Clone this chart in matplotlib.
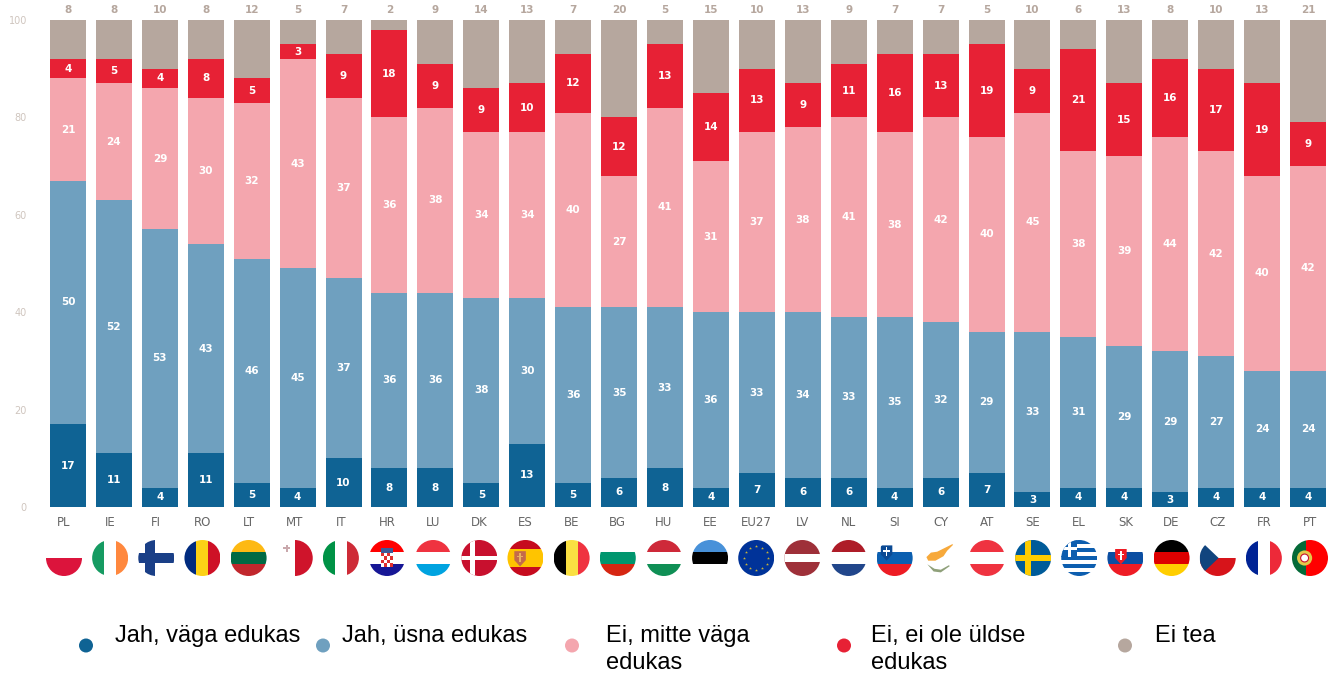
import numpy as np
import matplotlib
matplotlib.use('Agg')
import matplotlib.pyplot as plt
from matplotlib.patches import Rectangle, Circle, Polygon

countries = ['PL', 'IE', 'FI', 'RO', 'LT', 'MT', 'IT', 'HR', 'LU', 'DK', 'ES', 'BE', 'BG', 'HU',
             'EE', 'EU27', 'LV', 'NL', 'SI', 'CY', 'AT', 'SE', 'EL', 'SK', 'DE', 'CZ', 'FR', 'PT']
very = [17, 11, 4, 11, 5, 4, 10, 8, 8, 5, 13, 5, 6, 8, 4, 7, 6, 6, 4, 6, 7, 3, 4, 4, 3, 4, 4, 4]
rather = [50, 52, 53, 43, 46, 45, 37, 36, 36, 38, 30, 36, 35, 33, 36, 33, 34, 33, 35, 32, 29, 33, 31, 29, 29, 27, 24, 24]
not_very = [21, 24, 29, 30, 32, 43, 37, 36, 38, 34, 34, 40, 27, 41, 31, 37, 38, 41, 38, 42, 40, 45, 38, 39, 44, 42, 40, 42]
not_at_all = [4, 5, 4, 8, 5, 3, 9, 18, 9, 9, 10, 12, 12, 13, 14, 13, 9, 11, 16, 13, 19, 9, 21, 15, 16, 17, 19, 9]
dont_know = [8, 8, 10, 8, 12, 5, 7, 2, 9, 14, 13, 7, 20, 5, 15, 10, 13, 9, 7, 7, 5, 10, 6, 13, 8, 10, 13, 21]

series = [very, rather, not_very, not_at_all, dont_know]
colors = ['#0F6394', '#6FA0BF', '#F4A6AE', '#E72135', '#B6A79E']
legend_labels = ['Jah, väga edukas', 'Jah, üsna edukas', 'Ei, mitte väga\nedukas', 'Ei, ei ole üldse\nedukas', 'Ei tea']
legend_dot_x = [86, 323, 572, 844, 1125]
legend_text_x = [115, 342, 606, 871, 1155]

W, H = 1336, 673
fig = plt.figure(figsize=(W / 100, H / 100), dpi=100)

# main axes, placed so the bars land where they do in the picture
ax = fig.add_axes([45 / W, 1 - 507 / H, (1331 - 45) / W, 487 / H])
x = np.arange(len(countries))
bottom = np.zeros(len(countries))
for k, (vals, col) in enumerate(zip(series, colors)):
    ax.bar(x, vals, bottom=bottom, width=0.785, color=col)
    for i, v in enumerate(vals):
        if k < 4:
            ax.text(i, bottom[i] + v / 2, str(v), ha='center', va='center', color='white',
                    fontsize=7.5, fontweight='bold', family='DejaVu Sans')
        else:
            ax.text(i, 102, str(v), ha='center', va='center', color='#B6A79E',
                    fontsize=7.5, fontweight='bold', family='DejaVu Sans')
    bottom += np.array(vals)

ax.set_xlim(-0.5, 27.5)
ax.set_ylim(0, 100)
ax.set_xticks([])
ax.set_yticks(range(0, 101, 20))
ax.tick_params(axis='y', length=0, pad=13, labelsize=7, labelcolor='#CFC5BE')
for s in ax.spines.values():
    s.set_visible(False)
ax.patch.set_alpha(0)

# overlay in pixel coordinates for country codes, flags and the legend
ov = fig.add_axes([0, 0, 1, 1])
ov.set_xlim(0, W)
ov.set_ylim(H, 0)
ov.axis('off')
ov.patch.set_alpha(0)

flag_x = np.linspace(64, 1310, len(countries))
flag_y = 558
R = 18


def draw_rect(cx, clip, x0, y0, x1, y1, col):
    # coords are relative to the flag, in units of the radius
    r = Rectangle((cx + x0 * R, flag_y + y0 * R), (x1 - x0) * R, (y1 - y0) * R, fc=col, ec='none')
    ov.add_patch(r)
    r.set_clip_path(clip)


def draw_poly(cx, clip, pts, col):
    p = Polygon([(cx + a * R, flag_y + b * R) for a, b in pts], fc=col, ec='none')
    ov.add_patch(p)
    p.set_clip_path(clip)


def h_stripes(cx, clip, cols):
    n = len(cols)
    for j, c in enumerate(cols):
        draw_rect(cx, clip, -1, -1 + 2 * j / n, 1, -1 + 2 * (j + 1) / n, c)


def v_stripes(cx, clip, cols):
    n = len(cols)
    for j, c in enumerate(cols):
        draw_rect(cx, clip, -1 + 2 * j / n, -1, -1 + 2 * (j + 1) / n, 1, c)


def cross(cx, clip, bg, col, w=0.2, off=-0.3):
    draw_rect(cx, clip, -1, -1, 1, 1, bg)
    draw_rect(cx, clip, -1, -w, 1, w, col)
    draw_rect(cx, clip, off - w, -1, off + w, 1, col)


def small_shield(cx, clip, a, b, col, inner):
    draw_poly(cx, clip, [(a - 0.32, b - 0.4), (a + 0.32, b - 0.4), (a + 0.32, b + 0.1), (a, b + 0.45), (a - 0.32, b + 0.1)], col)
    draw_rect(cx, clip, a - 0.05, b - 0.3, a + 0.05, b + 0.2, inner)
    draw_rect(cx, clip, a - 0.18, b - 0.15, a + 0.18, b - 0.05, inner)


for code, cx in zip(countries, flag_x):
    clip = Circle((cx, flag_y), R, transform=ov.transData)
    if code == 'PL':
        h_stripes(cx, clip, ['white', '#DC143C'])
    elif code == 'IE':
        v_stripes(cx, clip, ['#169B62', 'white', '#FF883E'])
    elif code == 'FI':
        cross(cx, clip, 'white', '#1A3F87', w=0.27, off=-0.33)
    elif code == 'RO':
        v_stripes(cx, clip, ['#002B7F', '#FCD116', '#CE1126'])
    elif code == 'LT':
        h_stripes(cx, clip, ['#FDB913', '#006A44', '#C1272D'])
    elif code == 'MT':
        v_stripes(cx, clip, ['white', '#CF142B'])
        draw_rect(cx, clip, -0.65, -0.6, -0.25, -0.48, '#C9A8AC')
        draw_rect(cx, clip, -0.51, -0.75, -0.39, -0.32, '#C9A8AC')
    elif code == 'IT':
        v_stripes(cx, clip, ['#009246', 'white', '#CE2B37'])
    elif code == 'HR':
        h_stripes(cx, clip, ['#FF0000', 'white', '#171796'])
        draw_rect(cx, clip, -0.32, -0.55, 0.32, -0.3, '#3D5A98')
        for m in range(4):
            for n in range(4):
                c = '#E03030' if (m + n) % 2 == 0 else 'white'
                draw_rect(cx, clip, -0.32 + 0.16 * m, -0.3 + 0.2 * n, -0.16 + 0.16 * m, -0.1 + 0.2 * n, c)
    elif code == 'LU':
        h_stripes(cx, clip, ['#EF3340', 'white', '#00A3E0'])
    elif code == 'DK':
        cross(cx, clip, '#C8102E', 'white', w=0.13, off=-0.38)
    elif code == 'ES':
        h_stripes(cx, clip, ['#C60B1E', '#FFC400', '#FFC400', '#C60B1E'])
        small_shield(cx, clip, -0.3, 0.02, '#C46A4A', '#E8B060')
    elif code == 'BE':
        v_stripes(cx, clip, ['black', '#FAE042', '#EF3340'])
    elif code == 'BG':
        h_stripes(cx, clip, ['white', '#00966E', '#D62612'])
    elif code == 'HU':
        h_stripes(cx, clip, ['#CE2939', 'white', '#0F8F55'])
    elif code == 'EE':
        h_stripes(cx, clip, ['#4891D9', 'black', 'white'])
    elif code == 'EU27':
        draw_rect(cx, clip, -1, -1, 1, 1, '#003399')
        ang = np.arange(12) * np.pi / 6
        ov.scatter(cx + 0.66 * R * np.cos(ang), flag_y + 0.66 * R * np.sin(ang), s=5, c='#C9B43A', marker='*', linewidths=0)
    elif code == 'LV':
        draw_rect(cx, clip, -1, -1, 1, 1, '#9E3039')
        draw_rect(cx, clip, -1, -0.2, 1, 0.2, 'white')
    elif code == 'NL':
        h_stripes(cx, clip, ['#AE1C28', 'white', '#21468B'])
    elif code == 'SI':
        h_stripes(cx, clip, ['white', '#0B5FB0', '#ED1C24'])
        small_shield(cx, clip, -0.45, -0.3, '#0B4A94', 'white')
    elif code == 'CY':
        draw_poly(cx, clip, [(-0.8, -0.05), (-0.55, -0.3), (-0.2, -0.35), (0.2, -0.55), (0.8, -0.85), (0.35, -0.4),
                             (0.15, -0.1), (-0.3, 0.15), (-0.7, 0.15)], '#F7A93B')
        draw_poly(cx, clip, [(-0.75, 0.35), (-0.35, 0.6), (0, 0.65), (0.45, 0.4), (0.5, 0.45), (0, 0.8), (-0.4, 0.75)], '#8FA07A')
    elif code == 'AT':
        h_stripes(cx, clip, ['#EF3340', 'white', '#EF3340'])
    elif code == 'SE':
        cross(cx, clip, '#005B99', '#FECC00', w=0.19, off=-0.28)
    elif code == 'EL':
        for m in range(9):
            c = '#0D5EAF' if m % 2 == 0 else 'white'
            draw_rect(cx, clip, -1, -1 + 2 * m / 9, 1, -1 + 2 * (m + 1) / 9, c)
        draw_rect(cx, clip, -1, -1, -0.1, -0.05, '#0D5EAF')
        draw_rect(cx, clip, -1, -0.62, -0.1, -0.43, 'white')
        draw_rect(cx, clip, -0.65, -1, -0.45, -0.05, 'white')
    elif code == 'SK':
        h_stripes(cx, clip, ['white', '#0B4EA2', '#EE1C25'])
        small_shield(cx, clip, -0.25, -0.1, '#EE1C25', 'white')
    elif code == 'DE':
        h_stripes(cx, clip, ['black', '#DD0000', '#FFCE00'])
    elif code == 'CZ':
        h_stripes(cx, clip, ['white', '#D7141A'])
        draw_poly(cx, clip, [(-1, -1), (0.05, 0), (-1, 1)], '#11457E')
    elif code == 'FR':
        v_stripes(cx, clip, ['#002395', 'white', '#ED2939'])
    elif code == 'PT':
        draw_rect(cx, clip, -1, -1, -0.2, 1, '#046A38')
        draw_rect(cx, clip, -0.2, -1, 1, 1, '#FF0000')
        ov.add_patch(Circle((cx - 0.3 * R, flag_y), 0.42 * R, fc='#E4C84A', ec='none'))
        ov.add_patch(Circle((cx - 0.3 * R, flag_y), 0.22 * R, fc='white', ec='#C8102E', lw=0.8))
    ov.text(cx, 522, code, ha='center', va='center', fontsize=8.5, color='#666666', family='DejaVu Sans')

for dx, tx, lab, col in zip(legend_dot_x, legend_text_x, legend_labels, colors):
    ov.add_patch(Circle((dx, 645.5), 7, fc=col, ec='none'))
    ov.text(tx, 625, lab, ha='left', va='top', fontsize=17, color='black', family='Liberation Sans',
            linespacing=1.28)

fig.savefig('out.png', dpi=100)
